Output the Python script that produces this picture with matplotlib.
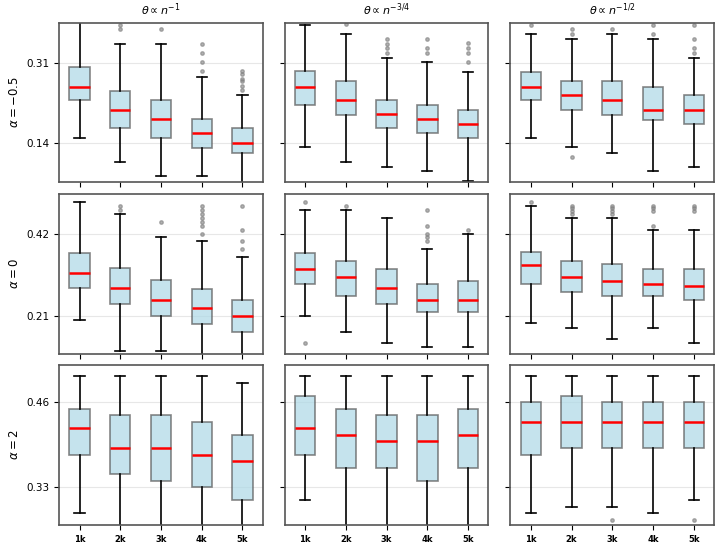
import matplotlib
matplotlib.use("Agg")
import matplotlib.pyplot as plt

# x categories and panel labels
sizes = ['1k', '2k', '3k', '4k', '5k']
col_titles = [r'$\theta \propto n^{-1}$', r'$\theta \propto n^{-3/4}$', r'$\theta \propto n^{-1/2}$']
row_labels = [r'$\alpha = -0.5$', r'$\alpha = 0$', r'$\alpha = 2$']
row_ticks = [[0.14, 0.31], [0.21, 0.42], [0.33, 0.46]]
row_ylims = [(0.057, 0.395), (0.115, 0.520), (0.2726, 0.516)]

# box stats per panel: (whislo, q1, med, q3, whishi) per size
stats_r1c1 = [(0.151, 0.232, 0.260, 0.301, 0.40),
              (0.100, 0.171, 0.211, 0.251, 0.351),
              (0.071, 0.151, 0.191, 0.232, 0.351),
              (0.071, 0.130, 0.161, 0.192, 0.281),
              (0.050, 0.118, 0.141, 0.171, 0.241)]
fliers_r1c1 = [[], [0.391, 0.381], [0.381], [0.351, 0.331, 0.311, 0.292],
               [0.292, 0.286, 0.277, 0.271, 0.262, 0.252]]

stats_r1c2 = [(0.131, 0.221, 0.260, 0.293, 0.391),
              (0.100, 0.200, 0.231, 0.271, 0.371),
              (0.090, 0.171, 0.201, 0.231, 0.321),
              (0.080, 0.161, 0.191, 0.221, 0.311),
              (0.060, 0.151, 0.181, 0.211, 0.291)]
fliers_r1c2 = [[], [0.393], [0.361, 0.351, 0.341, 0.331], [0.361, 0.341, 0.331],
               [0.352, 0.341, 0.331, 0.311]]

stats_r1c3 = [(0.151, 0.231, 0.260, 0.291, 0.371),
              (0.131, 0.211, 0.241, 0.271, 0.361),
              (0.120, 0.200, 0.231, 0.271, 0.371),
              (0.080, 0.188, 0.211, 0.260, 0.361),
              (0.090, 0.181, 0.211, 0.241, 0.321)]
fliers_r1c3 = [[0.391], [0.381, 0.371, 0.110], [0.381], [0.391, 0.371],
               [0.391, 0.361, 0.341, 0.331]]

stats_r2c1 = [(0.201, 0.281, 0.320, 0.370, 0.501),
              (0.122, 0.241, 0.281, 0.333, 0.469),
              (0.122, 0.211, 0.251, 0.303, 0.410),
              (0.100, 0.191, 0.230, 0.280, 0.400),
              (0.100, 0.171, 0.211, 0.251, 0.360)]
fliers_r2c1 = [[], [0.491, 0.480], [0.450],
               [0.491, 0.480, 0.470, 0.460, 0.450, 0.440, 0.420],
               [0.491, 0.430, 0.400, 0.380]]

stats_r2c2 = [(0.210, 0.291, 0.330, 0.370, 0.480),
              (0.171, 0.261, 0.310, 0.350, 0.480),
              (0.141, 0.241, 0.281, 0.330, 0.460),
              (0.131, 0.220, 0.251, 0.291, 0.381),
              (0.131, 0.221, 0.251, 0.300, 0.420)]
fliers_r2c2 = [[0.501, 0.141], [0.491], [], [0.480, 0.440, 0.420, 0.410, 0.400], [0.430]]

stats_r2c3 = [(0.192, 0.291, 0.340, 0.372, 0.491),
              (0.181, 0.271, 0.310, 0.349, 0.460),
              (0.151, 0.261, 0.300, 0.343, 0.460),
              (0.181, 0.261, 0.291, 0.330, 0.430),
              (0.141, 0.251, 0.287, 0.330, 0.430)]
fliers_r2c3 = [[0.501], [0.491, 0.484, 0.477, 0.470], [0.491, 0.484, 0.477, 0.470],
               [0.491, 0.484, 0.477, 0.440], [0.491, 0.484, 0.477]]

stats_r3c1 = [(0.290, 0.380, 0.420, 0.450, 0.500),
              (0.260, 0.350, 0.390, 0.440, 0.500),
              (0.260, 0.339, 0.390, 0.440, 0.500),
              (0.260, 0.330, 0.380, 0.430, 0.500),
              (0.260, 0.310, 0.370, 0.410, 0.490)]
fliers_r3c1 = [[], [], [], [], []]

stats_r3c2 = [(0.310, 0.380, 0.420, 0.470, 0.500),
              (0.260, 0.360, 0.410, 0.450, 0.500),
              (0.260, 0.360, 0.400, 0.440, 0.500),
              (0.260, 0.340, 0.400, 0.440, 0.500),
              (0.260, 0.360, 0.410, 0.450, 0.500)]
fliers_r3c2 = [[], [], [], [], []]

stats_r3c3 = [(0.290, 0.380, 0.430, 0.460, 0.500),
              (0.300, 0.390, 0.430, 0.470, 0.500),
              (0.300, 0.390, 0.430, 0.460, 0.500),
              (0.290, 0.390, 0.430, 0.460, 0.500),
              (0.310, 0.390, 0.430, 0.460, 0.500)]
fliers_r3c3 = [[], [], [0.280], [], [0.280]]

panels = [[(stats_r1c1, fliers_r1c1), (stats_r1c2, fliers_r1c2), (stats_r1c3, fliers_r1c3)],
          [(stats_r2c1, fliers_r2c1), (stats_r2c2, fliers_r2c2), (stats_r2c3, fliers_r2c3)],
          [(stats_r3c1, fliers_r3c1), (stats_r3c2, fliers_r3c2), (stats_r3c3, fliers_r3c3)]]

fig, axes = plt.subplots(3, 3, figsize=(7.22, 5.45), dpi=100, sharex=True, sharey='row')
fig.subplots_adjust(left=0.082, right=0.989, top=0.958, bottom=0.037, wspace=0.108, hspace=0.075)

for r in range(3):
    for c in range(3):
        ax = axes[r][c]
        st, fl = panels[r][c]
        bstats = []
        for (lo, q1, med, q3, hi), f in zip(st, fl):
            bstats.append(dict(whislo=lo, q1=q1, med=med, q3=q3, whishi=hi, fliers=f))
        ax.bxp(bstats, positions=range(1, 6), widths=0.5, patch_artist=True,
               boxprops=dict(facecolor='lightblue', edgecolor='#555555', alpha=0.7, linewidth=1.2),
               medianprops=dict(color='red', linewidth=1.8),
               whiskerprops=dict(color='black', linewidth=1.2),
               capprops=dict(color='black', linewidth=1.2),
               flierprops=dict(marker='o', markersize=2.5, markerfacecolor='grey',
                               markeredgecolor='grey', alpha=0.6))
        ax.set_ylim(*row_ylims[r])
        ax.set_yticks(row_ticks[r])
        ax.set_yticklabels(['%.2f' % v for v in row_ticks[r]])
        ax.yaxis.grid(True, color='#dddddd', alpha=0.7, linewidth=0.8)
        ax.set_axisbelow(True)
        for sp in ax.spines.values():
            sp.set_color('#555555')
            sp.set_linewidth(1.2)
        ax.tick_params(axis='y', labelsize=7.5)
        if r == 0:
            ax.set_title(col_titles[c], fontsize=8)
        if c == 0:
            ax.set_ylabel(row_labels[r], fontsize=8.5)

for ax in axes[2]:
    ax.set_xticks(range(1, 6))
    ax.set_xticklabels(sizes, fontweight='bold', fontsize=6)

fig.savefig('out.png', dpi=100)
